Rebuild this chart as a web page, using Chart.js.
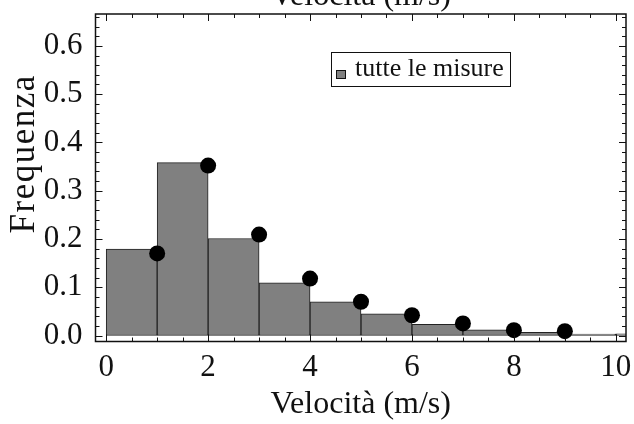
<!DOCTYPE html>
<html>
<head>
<meta charset="utf-8">
<script src="https://cdn.jsdelivr.net/npm/chart.js@4.4.1/dist/chart.umd.min.js"></script>
<style>
    html, body { margin: 0; padding: 0; background: #fff; }
    #wrap { width: 634px; height: 424px; }
</style>
</head>
<body>
<div id="wrap"><canvas id="isto"></canvas></div>
<script>
'use strict';

// istogramma: inizio di ogni classe (m/s) e frequenza
const classi = [0, 1, 2, 3, 4, 5, 6, 7, 8, 9, 10];
const frequenze = [0.179, 0.358, 0.201, 0.109, 0.070, 0.045, 0.023, 0.012, 0.0066, 0.003, 0.0035];

// punti neri sopra l'istogramma
const puntiX = [1, 2, 3, 4, 5, 6, 7, 8, 9];
const puntiY = [0.170, 0.352, 0.209, 0.118, 0.070, 0.042, 0.025, 0.011, 0.009];

// tacche con etichetta
const xTicks = [0, 2, 4, 6, 8, 10];
const yTicks = [0, 0.1, 0.2, 0.3, 0.4, 0.5, 0.6];

const FONT = "'Liberation Serif', 'Times New Roman', serif";
const INK = '#111';

// cornice stile Mathematica: bordo, tacche interne, legenda con riquadro, titolo in alto
const cornice = {
    id: 'cornice',
    afterDraw(chart) {
        const ctx = chart.ctx;
        const a = chart.chartArea;
        const sx = chart.scales.x, sy = chart.scales.y;
        ctx.save();
        ctx.strokeStyle = INK;
        ctx.lineWidth = 1;

        // tacche: ogni 0.5 in x, ogni 0.02 in y
        ctx.beginPath();
        for (let v = 0; v <= sx.max + 1e-9; v += 0.5) {
            const px = Math.round(sx.getPixelForValue(v)) + 0.5;
            const len = xTicks.includes(v) ? 7 : 4;
            ctx.moveTo(px, a.bottom); ctx.lineTo(px, a.bottom - len);
            ctx.moveTo(px, a.top); ctx.lineTo(px, a.top + len);
        }
        for (let i = 0; i * 0.02 <= sy.max + 1e-9; i++) {
            const v = i * 0.02;
            const py = Math.round(sy.getPixelForValue(v)) + 0.5;
            const len = (i % 5 === 0) ? 7 : 4;
            ctx.moveTo(a.left, py); ctx.lineTo(a.left + len, py);
            ctx.moveTo(a.right, py); ctx.lineTo(a.right - len, py);
        }
        ctx.stroke();

        ctx.lineWidth = 1.5;
        ctx.strokeRect(a.left, a.top, a.right - a.left, a.bottom - a.top);

        // legenda
        const ds = chart.data.datasets[1];
        ctx.fillStyle = '#fff';
        ctx.fillRect(331, 52, 180, 35);
        ctx.lineWidth = 1;
        ctx.strokeStyle = INK;
        ctx.strokeRect(331.5, 52.5, 179, 34);
        ctx.fillStyle = ds.backgroundColor;
        ctx.fillRect(336, 70, 10, 9);
        ctx.strokeRect(336.5, 70.5, 9, 8);
        ctx.fillStyle = INK;
        ctx.font = '26px ' + FONT;
        ctx.textBaseline = 'alphabetic';
        ctx.textAlign = 'left';
        ctx.fillText(ds.label, 355, 76);

        // etichetta superiore (tagliata dal bordo)
        ctx.font = '32px ' + FONT;
        ctx.textAlign = 'center';
        ctx.fillText(chart.options.scales.x.title.text, (a.left + a.right) / 2, 5);

        // titolo asse y, un po' sopra il centro come nell'originale
        ctx.font = '35px ' + FONT;
        ctx.letterSpacing = '1.5px';
        ctx.translate(25, (a.top + a.bottom) / 2 - 24);
        ctx.rotate(-Math.PI / 2);
        ctx.textBaseline = 'middle';
        ctx.fillText('Frequenza', 0, 0);
        ctx.restore();
    }
};

const isto = document.getElementById('isto');
const istoChart = new Chart(isto, {
    type: 'bar',
    data: {
        datasets: [{
            type: 'scatter',
            label: 'punti',
            data: puntiX.map((x, i) => ({ x: x, y: puntiY[i] })),
            pointRadius: 8,
            pointBackgroundColor: '#000',
            pointBorderWidth: 0,
            order: 1
        }, {
            label: 'tutte le misure',
            data: classi.map((c, i) => ({ x: c + 0.5, y: frequenze[i] })),
            backgroundColor: '#808080',
            borderColor: '#222',
            borderWidth: 1,
            borderSkipped: false,
            barPercentage: 1,
            categoryPercentage: 1,
            order: 2
        }]
    },
    options: {
        responsive: true,
        maintainAspectRatio: false,
        animation: false,
        layout: { padding: { top: 14, right: 8, left: 0, bottom: 0 } },
        plugins: {
            legend: { display: false },
            tooltip: { enabled: false }
        },
        scales: {
            x: {
                type: 'linear',
                offset: false,
                min: -0.21,
                max: 10.2,
                grid: { display: false, drawTicks: false, offset: false },
                border: { display: false },
                ticks: {
                    font: { family: FONT, size: 31 },
                    color: INK,
                    padding: 8,
                    maxRotation: 0,
                    autoSkip: false,
                    callback: v => String(v)
                },
                afterBuildTicks: s => { s.ticks = xTicks.map(v => ({ value: v })); },
                afterFit: s => {
                    s.height = 82.5;
                    s.paddingLeft = 0; s.paddingRight = 0;
                },
                title: {
                    display: true,
                    text: 'Velocità (m/s)',
                    font: { family: FONT, size: 32 },
                    color: INK,
                    padding: { top: 0, bottom: 0 }
                }
            },
            y: {
                min: -0.0124,
                max: 0.666,
                grid: { display: false, drawTicks: false },
                border: { display: false },
                ticks: {
                    font: { family: FONT, size: 31 },
                    color: INK,
                    padding: 13,
                    autoSkip: false,
                    callback: v => v.toFixed(1)
                },
                afterBuildTicks: s => { s.ticks = yTicks.map(v => ({ value: v })); },
                afterFit: s => {
                    s.width = 95.5;
                    s.paddingTop = 0; s.paddingBottom = 0;
                },
                title: { display: false }
            }
        }
    },
    plugins: [cornice]
});
</script>
</body>
</html>
